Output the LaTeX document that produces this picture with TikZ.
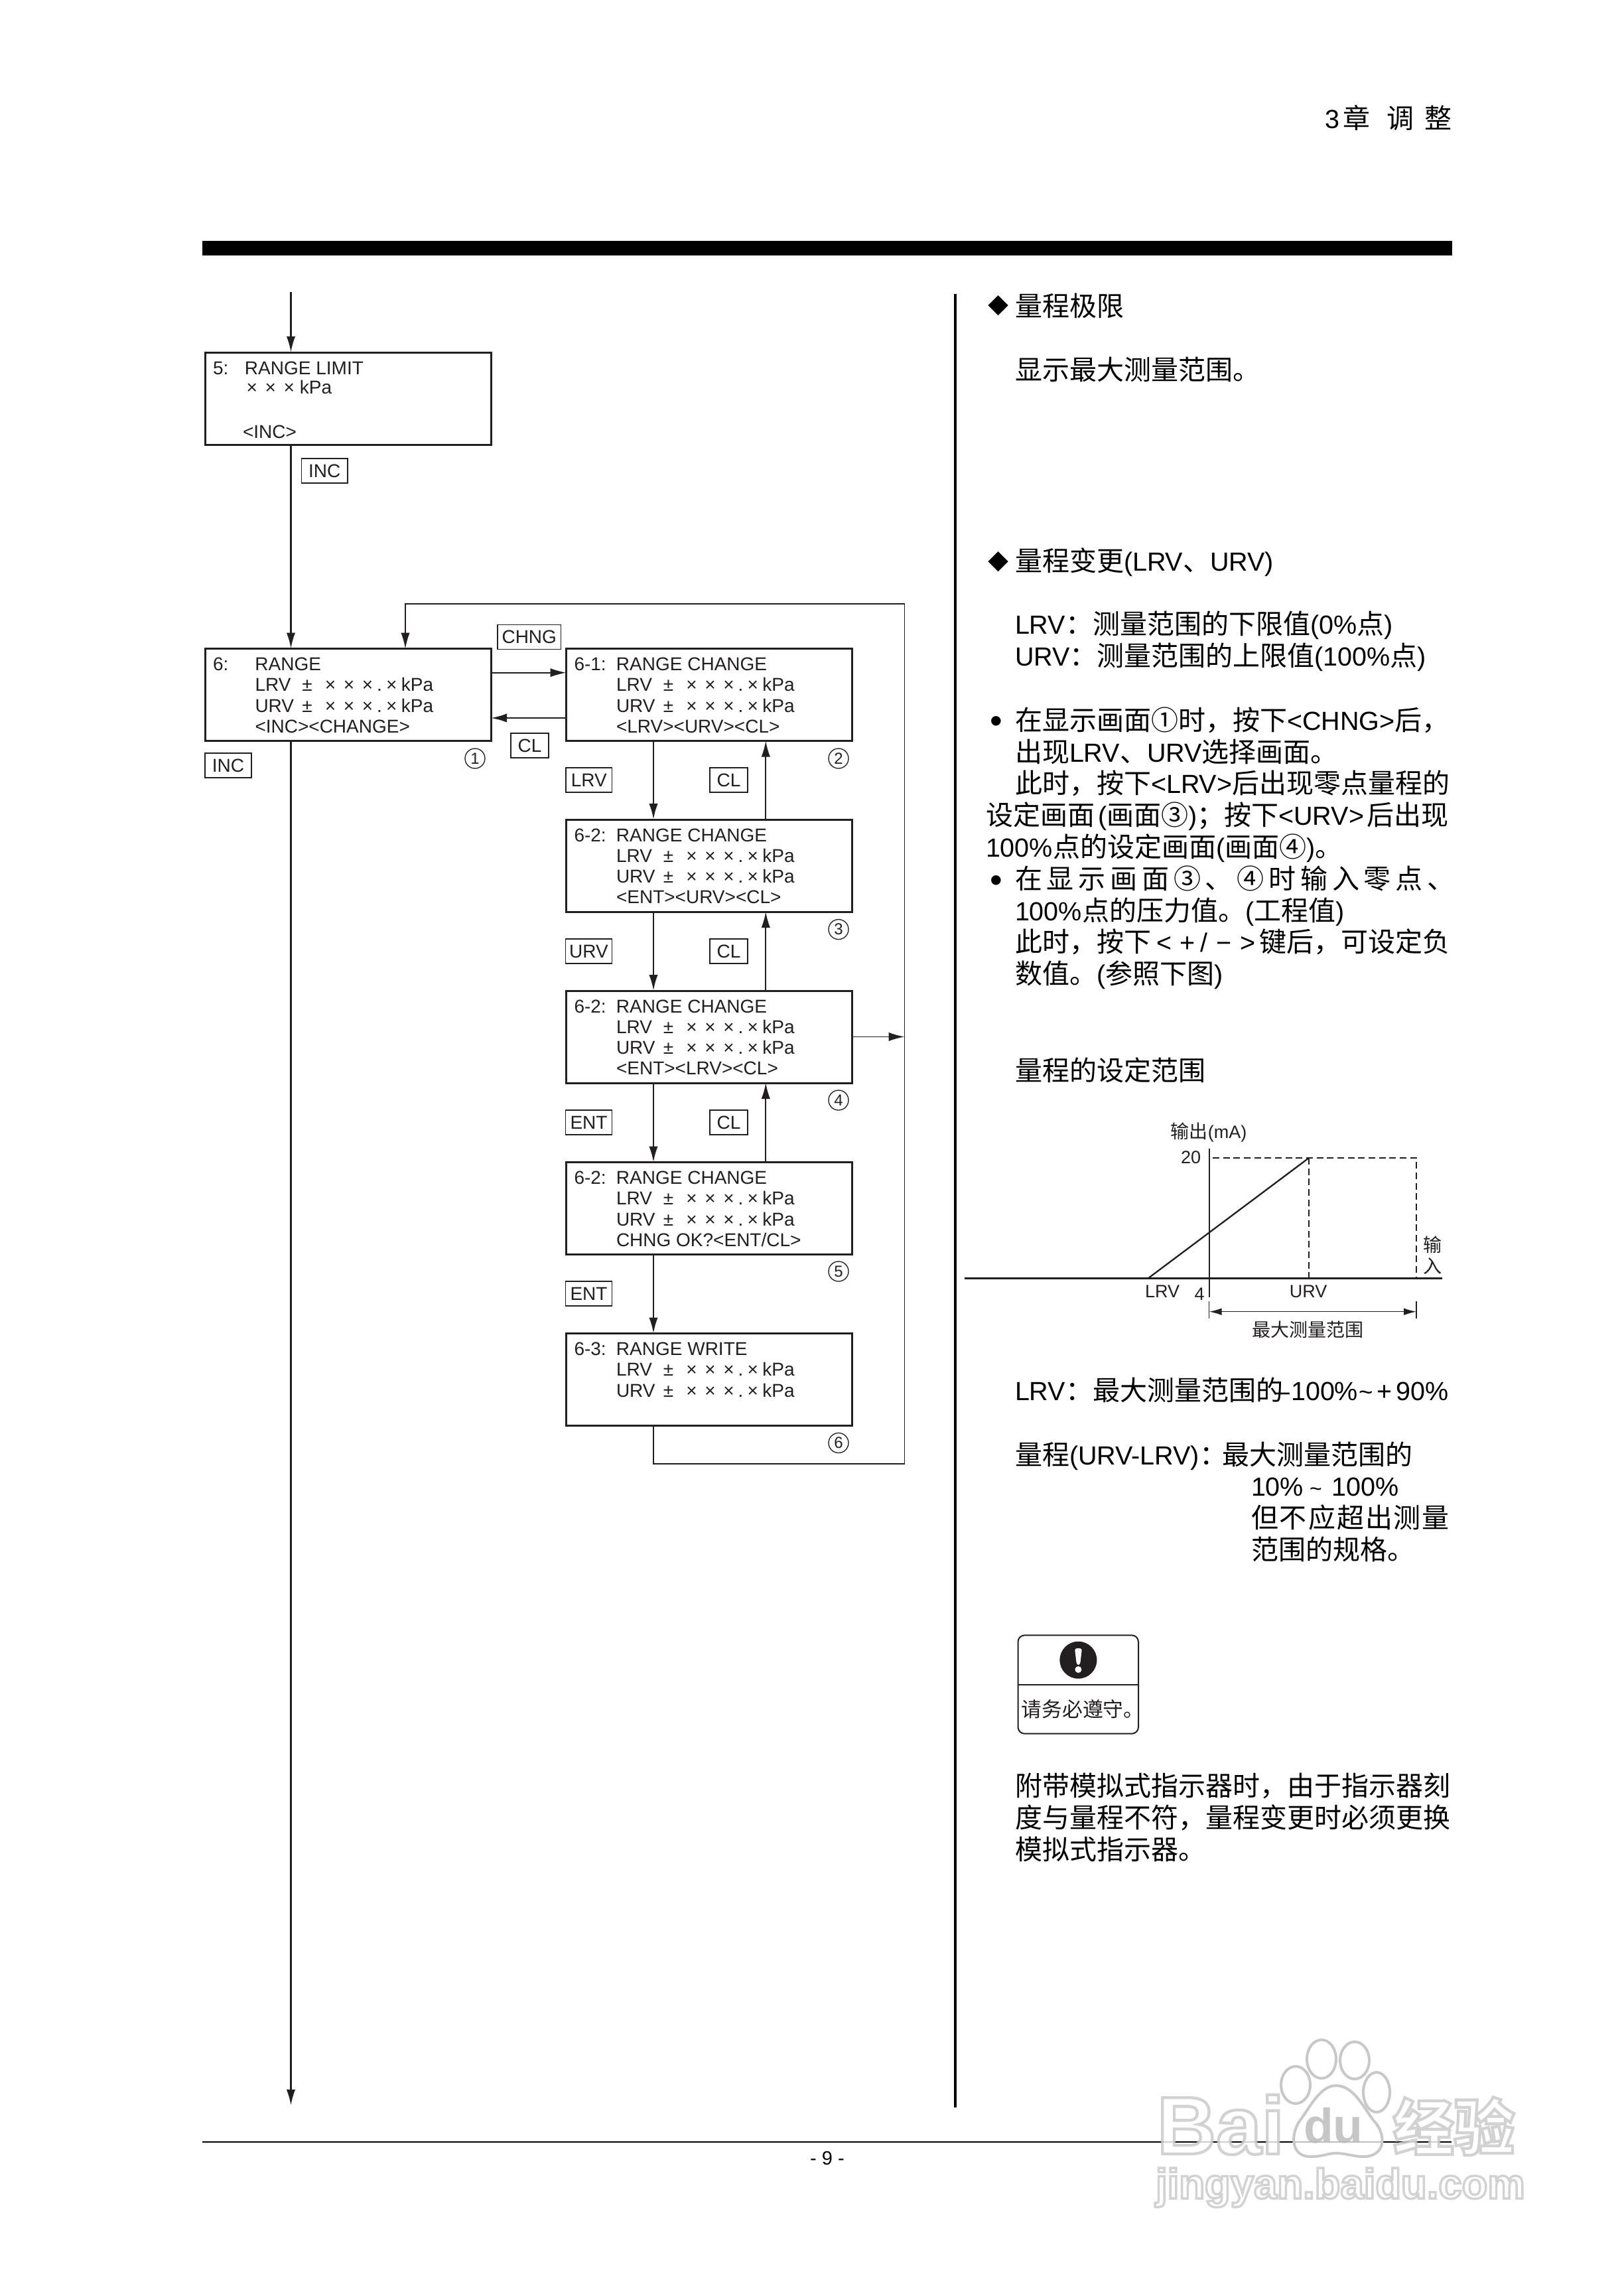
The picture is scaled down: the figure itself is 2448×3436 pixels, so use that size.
\documentclass[tikz,border=0pt]{standalone}
\usepackage{fontspec}
\usepackage{graphicx}
\usetikzlibrary{arrows.meta,calc}
\setmainfont{Liberation Sans}
\newfontfamily\cjk[Scale=1.038]{Noto Sans CJK SC}
\newdimen\px \px=0.3pt
\newcommand\zh[1]{{\cjk #1}}
\newcommand\qcomma{\char"FF0C\relax}
\newcommand\qcolon{\char"FF1A\relax}
\newcommand\qsemi{\char"FF1B\relax}
\definecolor{ink}{HTML}{231F20}
\definecolor{wmgray}{HTML}{C8C8C8}
% one screen text: prefix, four rows
\newcommand\dispbody[5]{\vbox to 139\px{\baselineskip=31.3\px\lineskiplimit=-100pt\lineskip=0pt\hsize=431\px
  \hbox to 431\px{\rule{0pt}{33\px}\kern12\px\rlap{#1}\kern63.5\px #2\hss}
  \hbox to 431\px{\kern75.5\px #3\hss}
  \hbox to 431\px{\kern75.5\px #4\hss}
  \hbox to 431\px{\kern75.5\px #5\hss}
  \vss}}
\newcommand\vals[1]{\makebox[71\px][l]{#1}±\kern19\px ×\kern11.6\px ×\kern11.6\px ×\kern5.9\px.\kern6.3\px ×\kern6.4\px kPa}
% outlined watermark text
\newcommand\wmout[1]{\special{pdf:code q 2 Tr 1 g 0.78 G 1.3 w}#1\special{pdf:code Q}}
\tikzset{
  x=0.3pt,y=-0.3pt,
  dispbox/.style={draw=ink,line width=0.9pt,inner sep=0pt,outer sep=0pt,anchor=north west,font=\fontsize{8.4pt}{9.4pt}\selectfont,text=ink},
  keytag/.style={draw=ink,line width=0.55pt,inner sep=0pt,outer sep=0pt,minimum width=#1*0.3pt,minimum height=37*0.3pt,font=\fontsize{8.4pt}{9.4pt}\selectfont,text=ink},
  numc/.style={circle,draw=ink,line width=0.4pt,inner sep=0pt,minimum size=9pt,font=\fontsize{7.2pt}{8pt}\selectfont,text=ink},
  arrT/.style={draw=ink,line width=0.8pt,-{Latex[length=7.2pt,width=4pt]}},
  arrt/.style={draw=ink,line width=0.55pt,-{Latex[length=7.2pt,width=4pt]}},
  plain/.style={draw=ink,line width=0.7pt},
  tline/.style={anchor=base west,inner sep=0pt,outer sep=0pt,font=\fontsize{11.85pt}{14pt}\selectfont,text=black},
  diam/.style={anchor=base west,inner sep=0pt,outer sep=0pt,font=\fontsize{9pt}{11pt}\selectfont,text=black},
  glabel/.style={inner sep=0pt,outer sep=0pt,font=\fontsize{8.1pt}{9pt}\selectfont,text=ink},
  dashln/.style={draw=ink,line width=0.55pt,dash pattern=on 3pt off 1.7pt},
  wmshape/.style={draw=wmgray,line width=1.2pt,fill=white,fill opacity=.75},
  wmtext/.style={anchor=base west,inner sep=0pt,outer sep=0pt,text opacity=.8},
}
\begin{document}
\begin{tikzpicture}
\fill[white] (0,0) rectangle (2448,3436);
\useasboundingbox (0,0) rectangle (2448,3436);
% page furniture
\fill[black] (305,363) rectangle (2189,385);
\node[tline] (h1) at (1997,193) {3};
\node[tline] (h2) at (2024,193) {\zh{章}};
\node[tline] (h3) at (2090,193) {\zh{调}};
\node[tline] (h4) at (2147,193) {\zh{整}};
\draw[line width=1.2pt,black] (1439.5,443) -- (1439.5,3176);
\draw[line width=0.8pt,black] (305,3228) -- (2188,3228);
\node[anchor=base,inner sep=0pt,font=\fontsize{8.7pt}{10pt}\selectfont] (pg) at (1247,3262) {- 9 -};
% rails
\coordinate (xA) at (438.5,0); \coordinate (xL) at (611,0); \coordinate (xD) at (985,0);
\coordinate (xU) at (1154.3,0); \coordinate (xR) at (1363.5,0);
\coordinate (yT) at (0,910.3); \coordinate (yB) at (0,2206);
\coordinate (yC) at (0,1013.7); \coordinate (yL) at (0,1082); \coordinate (yM) at (0,1562.4);
\coordinate (start) at (438.5,440); \coordinate (finish) at (438.5,3173);
% screens
\node[dispbox] (b5) at (309,531) {\vbox to 139\px{\baselineskip=29\px\lineskiplimit=-100pt\lineskip=0pt\hsize=431\px
  \hbox to 431\px{\rule{0pt}{33\px}\kern12\px\rlap{5:}\kern48\px RANGE LIMIT\hss}
  \hbox to 431\px{\kern62.7\px ×\kern11.6\px ×\kern11.6\px ×\kern8\px kPa\hss}
  \vskip 38\px
  \hbox to 431\px{\kern57\px <INC>\hss}
  \vss}};
\node[dispbox] (b6) at (309,977.5) {\dispbody{6:}{RANGE}{\vals{LRV}}{\vals{URV}}{<INC><CHANGE>}};
\node[dispbox] (s2) at (853.5,977.5) {\dispbody{6-1:}{RANGE CHANGE}{\vals{LRV}}{\vals{URV}}{<LRV><URV><CL>}};
\node[dispbox] (s3) at (853.5,1235) {\dispbody{6-2:}{RANGE CHANGE}{\vals{LRV}}{\vals{URV}}{<ENT><URV><CL>}};
\node[dispbox] (s4) at (853.5,1493) {\dispbody{6-2:}{RANGE CHANGE}{\vals{LRV}}{\vals{URV}}{<ENT><LRV><CL>}};
\node[dispbox] (s5) at (853.5,1751.5) {\dispbody{6-2:}{RANGE CHANGE}{\vals{LRV}}{\vals{URV}}{CHNG OK?<ENT/CL>}};
\node[dispbox] (s6) at (853.5,2009.5) {\dispbody{6-3:}{RANGE WRITE}{\vals{LRV}}{\vals{URV}}{}};
% key tags
\node[keytag=69.5] (kInc1) at (489.25,709.5) {INC};
\node[keytag=95.5] (kChng) at (797.75,960) {CHNG};
\node[keytag=57] (kCl1) at (798.5,1123.5) {CL};
\node[keytag=70] (kInc2) at (344,1153.7) {INC};
\node[keytag=69.5] (kLrv) at (887.75,1175.75) {LRV};
\node[keytag=57] (kCl2) at (1098.5,1175.75) {CL};
\node[keytag=70] (kUrv) at (887.5,1433.6) {URV};
\node[keytag=57] (kCl3) at (1098.5,1433.6) {CL};
\node[keytag=70] (kEnt1) at (887.5,1691.5) {ENT};
\node[keytag=57] (kCl4) at (1098.5,1691.5) {CL};
\node[keytag=70] (kEnt2) at (887.5,1949.75) {ENT};
% numbers
\node[numc] (n1) at (716,1143) {1};
\node[numc] (n2) at (1264,1143) {2};
\node[numc] (n3) at (1264,1400.6) {3};
\node[numc] (n4) at (1264,1658) {4};
\node[numc] (n5) at (1264,1916) {5};
\node[numc] (n6) at (1264,2174.5) {6};
% connectors
\draw[arrT] (start) -- (xA |- b5.north);
\draw[arrT] (xA |- b5.south) -- (xA |- b6.north);
\draw[arrT] (xA |- b6.south) -- (finish);
\draw[arrt] (b6.east |- yC) -- (s2.west |- yC);
\draw[arrT] (s2.west |- yL) -- (b6.east |- yL);
\draw[arrT] (xD |- s2.south) -- (xD |- s3.north);
\draw[arrT] (xD |- s3.south) -- (xD |- s4.north);
\draw[arrT] (xD |- s4.south) -- (xD |- s5.north);
\draw[arrT] (xD |- s5.south) -- (xD |- s6.north);
\draw[arrt] (xU |- s3.north) -- (xU |- s2.south);
\draw[arrt] (xU |- s4.north) -- (xU |- s3.south);
\draw[arrt] (xU |- s5.north) -- (xU |- s4.south);
\draw[arrt] (s4.east |- yM) -- (xR |- yM);
\draw[arrt] (xD |- s6.south) -- (xD |- yB) -- (xR |- yB) -- (xR |- yT) -- (xL |- yT) -- (xL |- b6.north);
% right column text
\node[diam] (t1a) at (1489.5,472) {\zh{◆}};
\node[tline] (t1) at (1530,476) {\zh{量程极限}};
\node[tline] (t2) at (1530,572) {\zh{显示最大测量范围。}};
\node[diam] (t3a) at (1489.5,858) {\zh{◆}};
\node[tline] (t3) at (1530,860) {\zh{量程变更}(LRV\zh{、}URV)};
\node[tline] (t4) at (1530,955) {LRV\zh{\qcolon 测量范围的下限值}(0\%\zh{点})};
\node[tline] (t5) at (1530,1003) {URV\zh{\qcolon 测量范围的上限值}(100\%\zh{点})};
\node[anchor=base,inner sep=0pt,font=\fontsize{16pt}{18pt}\selectfont] (bu1) at (1502,1104) {•};
\node[tline] (t6) at (1530,1100) {\zh{在显示画面①时\qcomma 按下}<CHNG>\zh{后\qcomma}};
\node[tline] (t7) at (1530,1148) {\zh{出现}LRV\zh{、}URV\zh{选择画面。}};
\node[tline] (t8) at (1530,1195) {\zh{此时\qcomma 按下}<LRV>\zh{后出现零点量程的}};
\node[tline] (t9) at (1486,1243) {\zh{设定画面}\kern5\px(\zh{画面③})\zh{\qsemi 按下}<URV>\kern4\px\zh{后出现}};
\node[tline] (t10) at (1486,1291) {100\%\zh{点的设定画面}(\zh{画面④})\zh{。}};
\node[anchor=base,inner sep=0pt,font=\fontsize{16pt}{18pt}\selectfont] (bu2) at (1502,1344) {•};
\node[tline] (t11) at (1530,1339) {\zh{在\kern6.8\px 显\kern6.8\px 示\kern6.8\px 画\kern6.8\px 面\kern6.8\px ③\kern6.8\px 、\kern6.8\px ④\kern6.8\px 时\kern6.8\px 输\kern6.8\px 入\kern6.8\px 零\kern6.8\px 点\kern6.8\px 、}};
\node[tline] (t12) at (1530,1387) {100\%\zh{点的压力值。}(\zh{工程值})};
\node[tline] (t13) at (1530,1434) {\zh{此时\qcomma 按下}\kern8\px<\kern12\px+\kern8\px/\kern13\px−\kern13\px>\kern6\px\zh{键后\qcomma 可设定负}};
\node[tline] (t14) at (1530,1482) {\zh{数值。}(\zh{参照下图})};
\node[tline] (t15) at (1530,1628) {\zh{量程的设定范围}};
\node[tline] (t16) at (1530,2110) {LRV\zh{\qcolon 最大测量范围的}\kern-12\px–\kern2\px 100\%\kern1\px{\fontsize{11pt}{12pt}\selectfont\~{}}\kern6\px+\kern6\px 90\%};
\node[tline] (t17) at (1530,2207) {\zh{量程}(URV-LRV)\zh{\qcolon}\kern-7\px\zh{最大测量范围的}};
\node[tline] (t18) at (1886,2254) {10\%\kern9\px{\fontsize{9.6pt}{11pt}\selectfont\~{}}\kern15\px 100\%};
\node[tline] (t19) at (1886,2302) {\zh{但\kern2\px 不\kern2\px 应\kern2\px 超\kern2\px 出\kern2\px 测\kern2\px 量}};
\node[tline] (t20) at (1886,2350) {\zh{范围的规格。}};
\node[tline] (t21) at (1530,2706) {\zh{附带模拟式指示器时\qcomma 由于指示器刻}};
\node[tline] (t22) at (1530,2754) {\zh{度与量程不符\qcomma 量程变更时必须更换}};
\node[tline] (t23) at (1530,2802) {\zh{模拟式指示器。}};
% graph
\coordinate (o) at (1822.7,1926.3);
\coordinate (axL) at (1453.8,1926.3); \coordinate (axR) at (2173.7,1926.3);
\coordinate (ayT) at (1822.7,1731); \coordinate (ayB) at (1822.7,1955);
\coordinate (lrv) at (1730.8,1926.3); \coordinate (urv) at (1973,1926.3);
\coordinate (peak) at (1973,1745); \coordinate (max) at (2135,1745); \coordinate (maxb) at (2135,1926.3);
\coordinate (dim1) at (1822.7,1976.7); \coordinate (dim2) at (2135,1976.7);
\draw[draw=ink,line width=1.05pt] (axL) -- (axR);
\draw[draw=ink,line width=0.7pt] (ayT) -- (ayB);
\draw[draw=ink,line width=0.7pt] (lrv) -- (peak);
\draw[dashln] (1828,1745) -- (peak) -- (max) -- (maxb);
\draw[dashln] (peak) -- (urv);
\draw[draw=ink,line width=0.45pt] (1822.7,1961) -- (1822.7,1987);
\draw[draw=ink,line width=0.45pt] (2135,1961) -- (2135,1987);
\draw[draw=ink,line width=0.45pt,{Latex[length=5.7pt,width=3.2pt]}-{Latex[length=5.7pt,width=3.2pt]}] (dim1) -- (dim2);
\node[glabel] (l1) at (1822,1706) {\zh{输出}(mA)};
\node[glabel] (l2) at (1795,1744) {20};
\node[glabel] (l3) at (2159,1876) {\zh{输}};
\node[glabel] (l4) at (2159,1908) {\zh{入}};
\node[glabel] (l5) at (1752,1946) {LRV};
\node[glabel] (l6) at (1808,1950) {4};
\node[glabel] (l7) at (1972,1946) {URV};
\node[glabel] (l8) at (1971.5,2004) {\zh{最大测量范围}};
% notice
\draw[draw=ink,line width=0.6pt,rounded corners=3pt] (1534.5,2464.3) rectangle (1716,2612.7);
\draw[draw=ink,line width=0.6pt] (1534.5,2538.7) -- (1716,2538.7);
\fill[ink] (1625.4,2501.7) circle [radius=8.4pt];
\fill[white,rounded corners=1pt] (1620,2484) -- (1631,2484) -- (1628,2509) -- (1623,2509) -- cycle;
\fill[white] (1625.4,2516) circle [radius=1.5pt];
\node[glabel,font=\fontsize{8.9pt}{9pt}\selectfont] (warn) at (1632,2575.7) {\zh{请务必遵守。}};
% watermark
\draw[wmshape] (1953,3142) ellipse [x radius=22*0.3pt,y radius=28*0.3pt];
\draw[wmshape] (1992,3103) ellipse [x radius=22*0.3pt,y radius=29*0.3pt];
\draw[wmshape] (2042,3105) ellipse [x radius=22*0.3pt,y radius=28*0.3pt];
\draw[wmshape] (2075,3153) ellipse [x radius=20*0.3pt,y radius=30*0.3pt];
\draw[wmshape] (2014,3143) .. controls (1990,3143) and (1975,3175) .. (1960,3195) .. controls (1945,3215) and (1945,3250) .. (1975,3250) .. controls (1995,3250) and (2000,3245) .. (2014,3245) .. controls (2030,3245) and (2040,3250) .. (2055,3250) .. controls (2090,3250) and (2090,3215) .. (2070,3195) .. controls (2055,3175) and (2040,3143) .. (2014,3143) -- cycle;
\node[wmtext] (wm1) at (1744,3246) {\fontsize{37pt}{40pt}\selectfont\bfseries\wmout{Bai}};
\node[wmtext,text=wmgray!92!black] (wm2) at (1965,3229) {\fontsize{22pt}{24pt}\selectfont\bfseries du};
\node[wmtext] (wm3) at (2100,3240) {\fontsize{26.5pt}{30pt}\selectfont\cjk\bfseries\wmout{经验}};
\node[wmtext] (wm4) at (1742,3313) {\resizebox{167pt}{!}{\fontsize{24pt}{26pt}\selectfont\bfseries\wmout{jingyan.baidu.com}}};
\end{tikzpicture}
\end{document}
